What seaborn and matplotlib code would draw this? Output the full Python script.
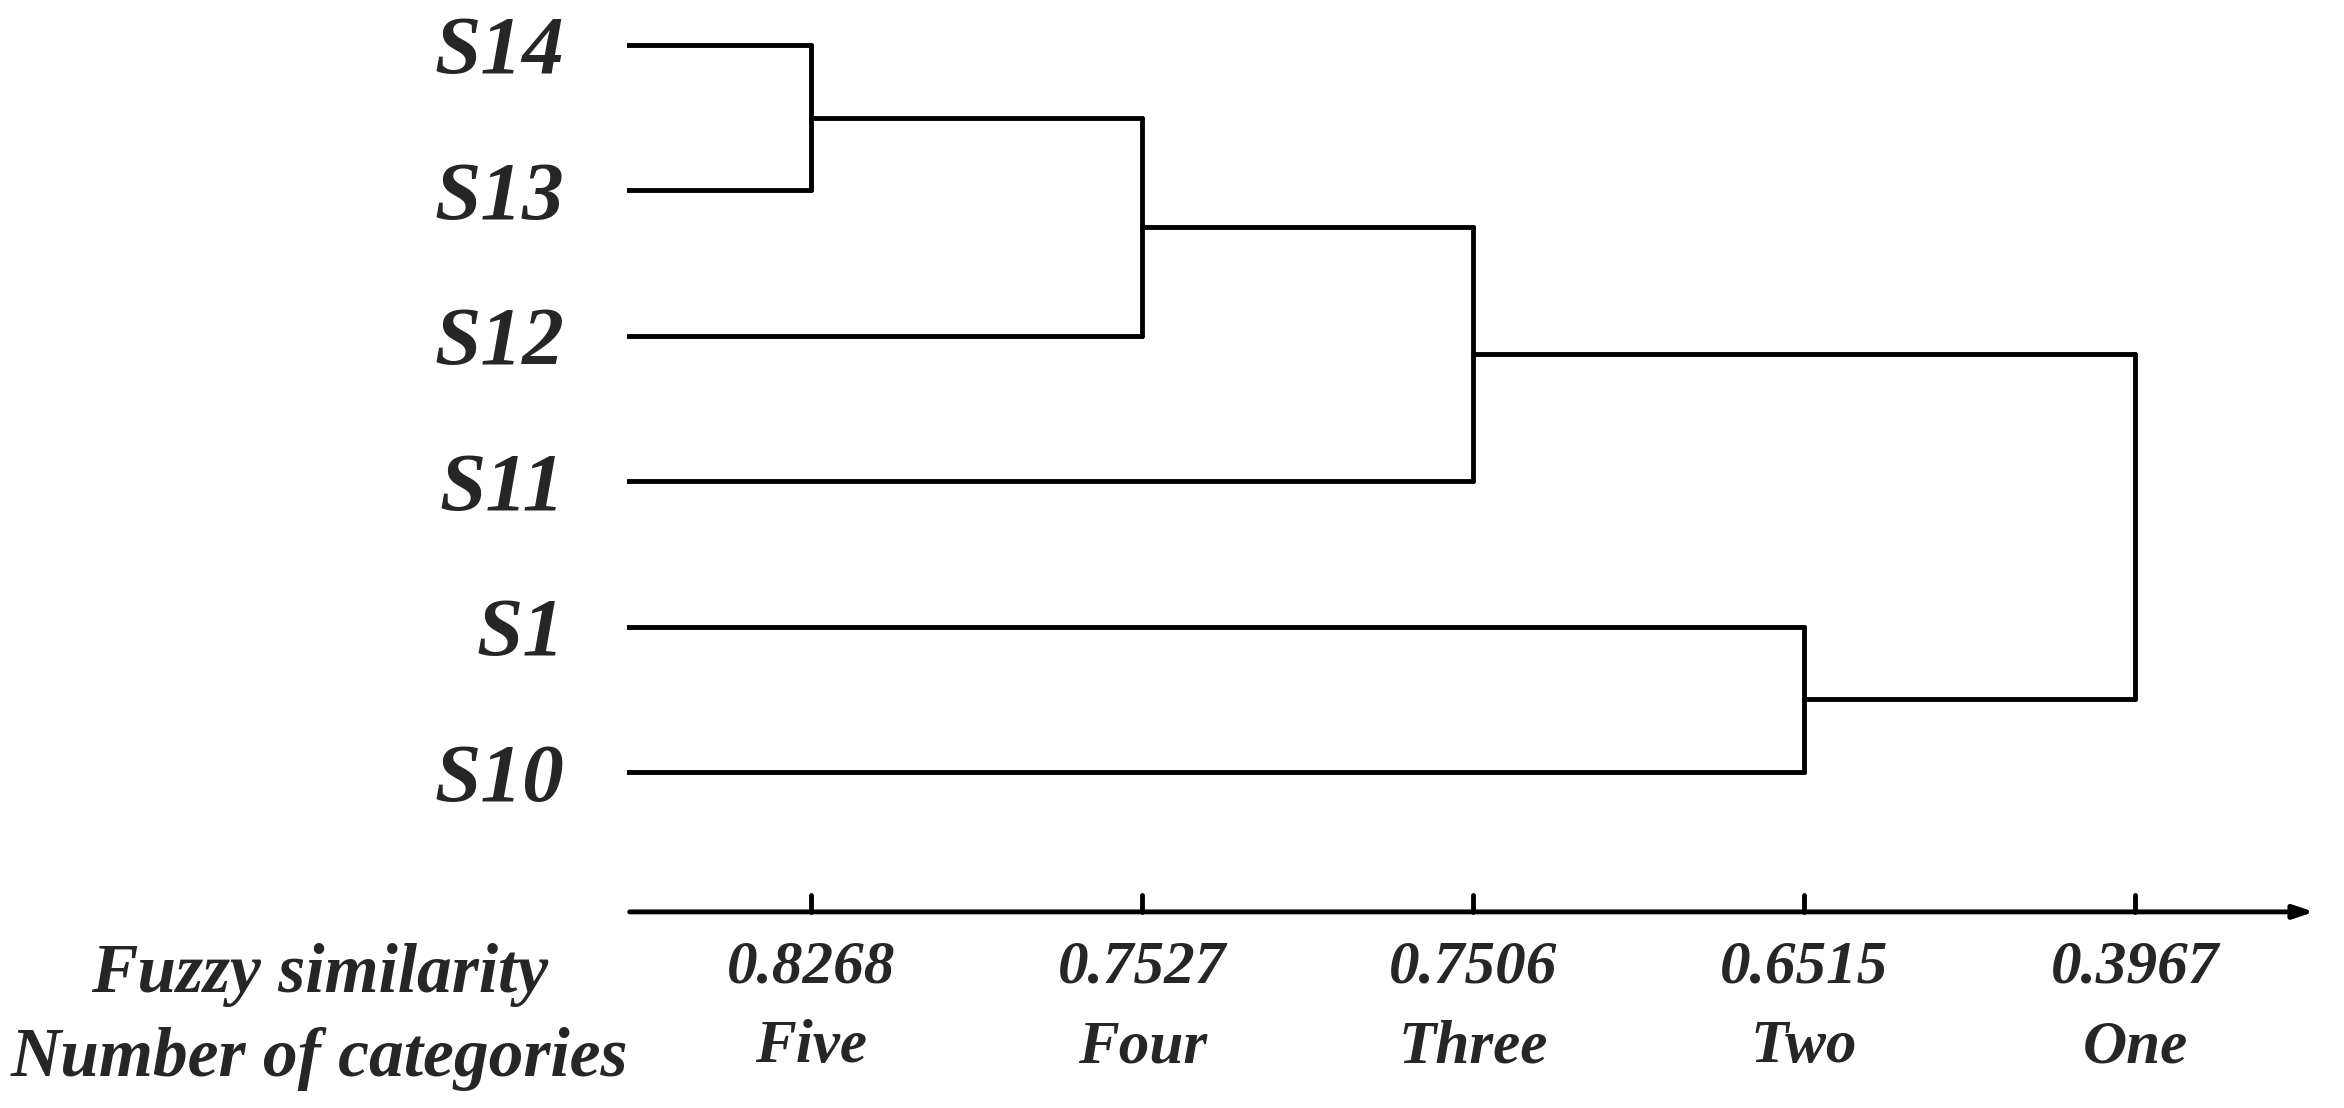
import matplotlib
matplotlib.use("Agg")
import matplotlib.pyplot as plt
import seaborn as sns
import pandas as pd
from matplotlib.transforms import blended_transform_factory

leaves = ["S14", "S13", "S12", "S11", "S1", "S10"]
similarity = ["0.8268", "0.7527", "0.7506", "0.6515", "0.3967"]
categories = ["Five", "Four", "Three", "Two", "One"]
# merges: (cluster a, cluster b, level index 1..5)
merges = [("S14", "S13", 1), ("c0", "S12", 2), ("c1", "S11", 3), ("S1", "S10", 4), ("c2", "c3", 5)]

sns.set_style("white")
plt.rcParams["font.family"] = ["Liberation Serif", "DejaVu Serif"]

X0 = 0.443
pos = {n: (X0, i) for i, n in enumerate(leaves)}
rows = []
seg = 0
for k, (a, b, lvl) in enumerate(merges):
    xa, ya = pos[a]; xb, yb = pos[b]
    for (x1, y1, x2, y2) in [(xa, ya, lvl, ya), (lvl, ya, lvl, yb), (xb, yb, lvl, yb)]:
        rows.append(dict(seg=seg, x=x1, y=y1, o=0)); rows.append(dict(seg=seg, x=x2, y=y2, o=1)); seg += 1
    pos[f"c{k}"] = (lvl, (ya + yb) / 2)
df = pd.DataFrame(rows)

fig = plt.figure(figsize=(23.44, 11.08), dpi=100)
ax = fig.add_axes([418/1563, 0.177, (1545-418)/1563, 0.822])
sns.lineplot(data=df, x="x", y="y", units="seg", estimator=None, sort=False,
             color="black", linewidth=3.5, ax=ax)
ax.set_xlim(X0, 5.55)
ax.set_ylim(5.96, -0.3)
for s in ax.spines.values():
    s.set_visible(False)
ax.annotate("", xy=(1.0, 0), xytext=(0, 0), xycoords="axes fraction",
            arrowprops=dict(arrowstyle="-|>,head_length=1.2,head_width=0.4", color="black", lw=3.5))
tr = blended_transform_factory(ax.transData, ax.transAxes)
for i in range(1, 6):
    ax.plot([i, i], [0, 0.018], transform=tr, color="black", lw=3.5, clip_on=False)
ax.set_yticks(range(len(leaves)))
ax.set_yticklabels(leaves, fontsize=60, fontweight="bold", fontstyle="italic")
ax.set_xticks(range(1, 6))
ax.set_xticklabels([f"{s}\n{c}" for s, c in zip(similarity, categories)],
                   fontsize=44, fontweight="bold", fontstyle="italic", linespacing=1.55)
ax.tick_params(axis="y", length=0, pad=45)
ax.tick_params(axis="x", length=0, pad=20)
ax.set_xlabel(""); ax.set_ylabel("")
fig.text(213/1563, 1-650/739, "Fuzzy similarity", ha="center", va="center",
         fontsize=50, fontweight="bold", fontstyle="italic")
fig.text(213/1563, 1-706/739, "Number of categories", ha="center", va="center",
         fontsize=50, fontweight="bold", fontstyle="italic")
fig.savefig("out.png", dpi=100, facecolor="white")
